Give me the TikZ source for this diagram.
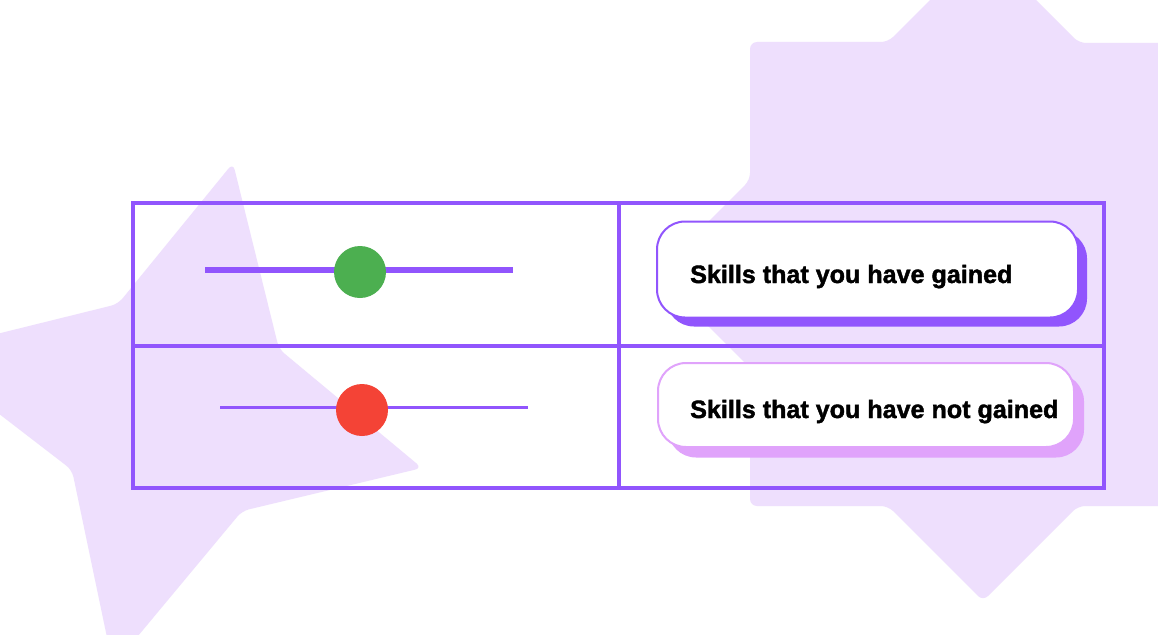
\documentclass[tikz,border=0pt]{standalone}
\usepackage{fontspec}
\setmainfont{Liberation Sans}
\newfontfamily\heavyfont[BoldFeatures={FakeBold=1.6}]{Liberation Sans}
\definecolor{violetline}{HTML}{9155FD}
\definecolor{lavender}{HTML}{EEDFFD}
\definecolor{pinkline}{HTML}{E0A3FB}
\definecolor{greendot}{HTML}{4CAF50}
\definecolor{reddot}{HTML}{F44336}
\tikzset{
  blob/.style={fill=lavender, draw=none, rounded corners=7pt},
  tbl/.style={draw=violetline, line width=4pt, line cap=rect},
  btnbase/.style={rectangle, rounded corners=28pt, inner sep=0pt},
  btnA/.style={btnbase, draw=violetline, line width=2pt, fill=white, minimum width=421pt, minimum height=96pt},
  btnAshadow/.style={btnbase, fill=violetline, minimum width=421pt, minimum height=96pt},
  btnB/.style={btnbase, draw=pinkline, line width=2pt, fill=white, minimum width=416pt, minimum height=84pt},
  btnBshadow/.style={btnbase, fill=pinkline, minimum width=416pt, minimum height=84pt},
  label/.style={anchor=base west, inner sep=0pt, text=black, font=\heavyfont\bfseries\fontsize{25.1}{30}\selectfont},
  knob/.style={circle, minimum size=52pt, inner sep=0pt, draw=none},
}
\begin{document}
\begin{tikzpicture}[x=1pt,y=-1pt]
\useasboundingbox (0,0) rectangle (1158,634);
\clip (0,0) rectangle (1158,634);
\fill[white] (0,0) rectangle (1158,634);
% background stars
\fill[blob] (983,-53) -- (1079,43) -- (1216,43) -- (1216,180) -- (1310,274) -- (1216,368) -- (1216,506) -- (1078,506) -- (983,601) -- (888,506) -- (750,506) -- (750,368) -- (656,274) -- (750,180) -- (750,42) -- (888,42) -- cycle;
\fill[blob] (233,163) -- (279,349) -- (422,468) -- (242,511) -- (113,666) -- (72,470) -- (-80,353) -- (118,304) -- cycle;
% table
\draw[tbl] (133,203) rectangle (1104,488);
\draw[tbl] (619,203) -- (619,488);
\draw[tbl] (133,346) -- (1104,346);
% sliders
\coordinate (g1) at (205,270);
\coordinate (g2) at (513,270);
\coordinate (r1) at (220,407.5);
\coordinate (r2) at (528,407.5);
\draw[violetline, line width=5.5pt] (g1) -- (g2);
\draw[violetline, line width=2.2pt] (r1) -- (r2);
\node[knob, fill=greendot] (gk) at (360,272) {};
\node[knob, fill=reddot] (rk) at (362,410) {};
% buttons
\node[btnAshadow] (bAs) at (876.5,278.5) {};
\node[btnA] (bA) at (867.5,269.5) {};
\node[label] (tA) at (690,283) {Skills that you have gained};
\node[btnBshadow] (bBs) at (876,415.5) {};
\node[btnB] (bB) at (866,405) {};
\node[label] (tB) at (690,418) {Skills that you have not gained};
\end{tikzpicture}
\end{document}
